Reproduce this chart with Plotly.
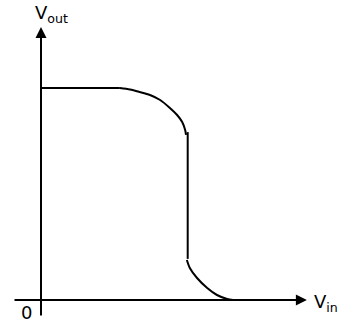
import plotly.graph_objects as go

# CMOS inverter transfer curve (volts, VDD = 5)
VDD = 5.0
FLAT_VIN = [0.0, 1.86]
FLAT_VOUT = [5.0, 5.0]
BEND_VIN = [1.86, 2.10, 2.33, 2.57, 2.81, 3.04, 3.21, 3.33, 3.40, 3.42]
BEND_VOUT = [5.0, 4.965, 4.906, 4.835, 4.717, 4.528, 4.363, 4.198, 4.009, 3.892]
SWITCH_VIN = [3.46, 3.46]
SWITCH_VOUT = [3.96, 0.97]
LOW_VIN = [3.44, 3.51, 3.68, 3.92, 4.15, 4.39, 4.53]
LOW_VOUT = [0.943, 0.755, 0.519, 0.283, 0.118, 0.024, 0.0]

X_AXIS_SPAN = [-0.66, 6.27]
Y_AXIS_SPAN = [-0.40, 6.44]

FONT = 'DejaVu Sans'
LINE = dict(color='black', width=2)

fig = go.Figure()
fig.add_trace(go.Scatter(x=FLAT_VIN, y=FLAT_VOUT, mode='lines', line=LINE))
fig.add_trace(go.Scatter(x=BEND_VIN, y=BEND_VOUT, mode='lines',
                         line=dict(LINE, shape='spline', smoothing=0.8)))
fig.add_trace(go.Scatter(x=SWITCH_VIN, y=SWITCH_VOUT, mode='lines', line=LINE))
fig.add_trace(go.Scatter(x=LOW_VIN, y=LOW_VOUT, mode='lines',
                         line=dict(LINE, shape='spline', smoothing=0.8)))

# axes drawn as arrows
arrow = dict(showarrow=True, arrowhead=2, arrowsize=1.1, arrowwidth=2,
             arrowcolor='black', axref='x', ayref='y', text='', standoff=0)
fig.add_annotation(x=X_AXIS_SPAN[1], y=0, ax=X_AXIS_SPAN[0], ay=0, **arrow)
fig.add_annotation(x=0, y=Y_AXIS_SPAN[1], ax=0, ay=Y_AXIS_SPAN[0], **arrow)

lbl = dict(showarrow=False, font=dict(family=FONT, size=18, color='black'))
fig.add_annotation(x=0.25, y=6.75, text='V<sub>out</sub>', **lbl)
fig.add_annotation(x=6.73, y=-0.07, text='V<sub>in</sub>', **lbl)
fig.add_annotation(x=-0.35, y=-0.29, text='0', **lbl)

fig.update_layout(width=351, height=324, margin=dict(l=0, r=0, t=0, b=0),
                  plot_bgcolor='white', paper_bgcolor='white', showlegend=False)
fig.update_xaxes(visible=False, range=[-41 / 42.4, 310 / 42.4])
fig.update_yaxes(visible=False, range=[-24 / 42.4, 300 / 42.4])

fig.write_html("out.html", config={'displayModeBar': False},
               post_script="document.body.style.margin='0';")
